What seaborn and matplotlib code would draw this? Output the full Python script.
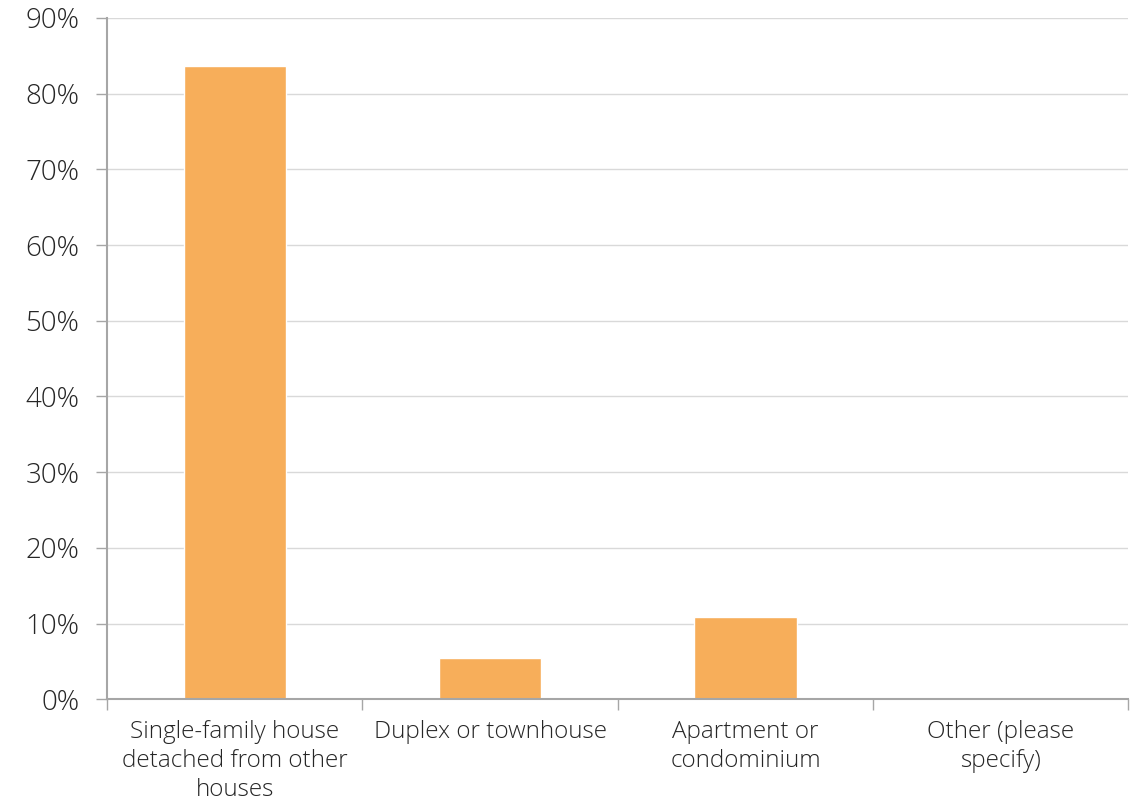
import numpy as np
import pandas as pd
import matplotlib
matplotlib.use('Agg')
import matplotlib.pyplot as plt
import seaborn as sns
from matplotlib.ticker import FuncFormatter

# datos
categorias = ['Single-family house\ndetached from other\nhouses',
              'Duplex or townhouse',
              'Apartment or\ncondominium',
              'Other (please\nspecify)']
porcentajes = [83.7, 5.4, 10.8, 0.0]

df = pd.DataFrame({'tipo': categorias, 'pct': porcentajes})

sns.set_style('white')
plt.rcParams['font.family'] = ['Open Sans', 'DejaVu Sans']

fig = plt.figure(figsize=(11.4, 8), dpi=100)
ax = fig.add_axes([0.0939, 0.126, 0.896, 0.8515])

sns.barplot(data=df, x='tipo', y='pct', color='#F7AE5A', width=0.4,
            saturation=1, ax=ax)

ax.set_ylim(0, 90)
ax.set_xlim(-0.5, len(categorias) - 0.5)
ax.set_yticks(np.arange(0, 91, 10))
ax.yaxis.set_major_formatter(FuncFormatter(lambda v, p: f'{v:.0f}%'))
ax.grid(axis='y', color='#D9D9D9', linewidth=1)
ax.set_axisbelow(True)

# ticks del eje x en los límites entre categorías
ax.set_xticks(np.arange(-0.5, len(categorias), 1.0))
ax.set_xticklabels([])
ax.set_xticks(range(len(categorias)), minor=True)
ax.set_xticklabels(categorias, minor=True, fontsize=17.5, color='#262626',
                   linespacing=1.28, fontweight='light')
ax.tick_params(axis='x', which='major', length=8, width=1, color='#A6A6A6',
               direction='out', bottom=True)
ax.tick_params(axis='x', which='minor', length=0, pad=15)
ax.tick_params(axis='y', length=8, width=1, color='#A6A6A6', direction='out',
               left=True, labelsize=20, labelcolor='#262626', pad=12)
for t in ax.get_yticklabels():
    t.set_fontweight('light')

ax.set_xlabel('')
ax.set_ylabel('')
sns.despine(ax=ax)
for s in ['left', 'bottom']:
    ax.spines[s].set_color('#A6A6A6')
    ax.spines[s].set_linewidth(1.5)

fig.savefig('out.png', dpi=100, facecolor='white')
